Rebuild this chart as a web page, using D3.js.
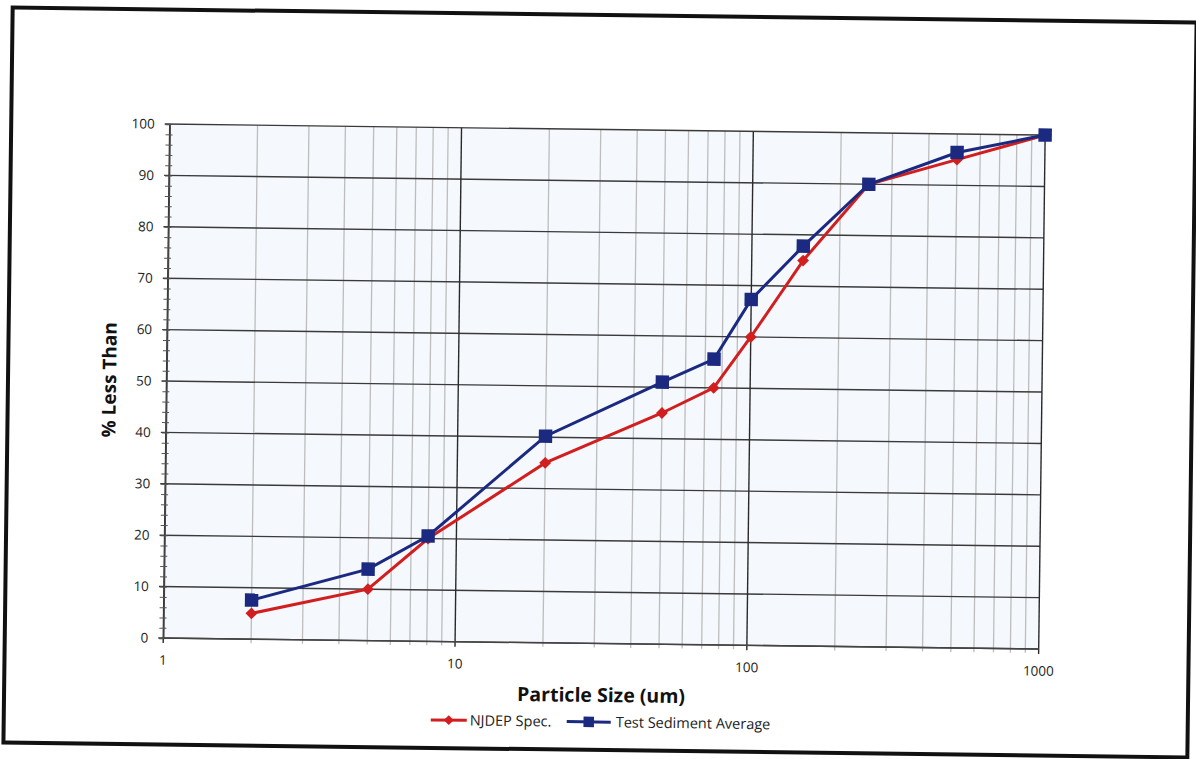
<!DOCTYPE html>
<html>
<head>
<meta charset="utf-8">
<script src="https://cdn.jsdelivr.net/npm/d3@7"></script>
<style>
  body { margin: 0; background: #fff; }
  svg { display: block; font-family: "Open Sans", "Noto Sans", sans-serif; }
</style>
</head>
<body>
<svg width="1196" height="759"></svg>
<script>
// Particle sizes (um) and percent less than for each series.
const sizes = [2, 5, 8, 20, 50, 75, 100, 150, 250, 500, 1000];
const njdepSpec = [5, 10, 20, 35, 45, 50, 60, 75, 90, 95, 100];
const testSediment = [7.6, 13.9, 20.5, 40.2, 51, 55.6, 67.3, 77.8, 90, 96.4, 100];
const xTicks = [1, 10, 100, 1000];
const yTicks = [0, 10, 20, 30, 40, 50, 60, 70, 80, 90, 100];

const plot = { left: 166.5, right: 1042, top: 129.5, bottom: 643.5 };

const svg = d3.select("svg");

// The scanned page is slightly tilted, so the whole drawing is rotated a bit.
const g = svg.append("g")
    .attr("transform", "rotate(0.72, 600, 383)");

// Outer frame.
g.append("rect")
    .attr("x", 8).attr("y", 15)
    .attr("width", 1184).attr("height", 735)
    .attr("fill", "#fff")
    .attr("stroke", "#111")
    .attr("stroke-width", 4);

const x = d3.scaleLog()
    .domain([1, 1000])
    .range([plot.left, plot.right]);

const y = d3.scaleLinear()
    .domain([0, 100])
    .range([plot.bottom, plot.top]);

// Plot background.
g.append("rect")
    .attr("x", plot.left).attr("y", plot.top)
    .attr("width", plot.right - plot.left)
    .attr("height", plot.bottom - plot.top)
    .attr("fill", "#f5f8fc");

// Minor vertical gridlines (2..9 within every decade).
const minorX = x.ticks().filter(v => !xTicks.includes(v));
g.append("g")
    .selectAll("line")
    .data(minorX)
    .join("line")
    .attr("x1", d => x(d)).attr("x2", d => x(d))
    .attr("y1", plot.top).attr("y2", plot.bottom + 4)
    .attr("stroke", "#bdbdbd")
    .attr("stroke-width", 1.3);

// Horizontal gridlines.
g.append("g")
    .selectAll("line")
    .data(yTicks)
    .join("line")
    .attr("x1", plot.left - 5).attr("x2", plot.right)
    .attr("y1", d => y(d)).attr("y2", d => y(d))
    .attr("stroke", "#3a3a3a")
    .attr("stroke-width", 1.4);

// Major vertical gridlines.
g.append("g")
    .selectAll("line")
    .data(xTicks)
    .join("line")
    .attr("x1", d => x(d)).attr("x2", d => x(d))
    .attr("y1", plot.top).attr("y2", plot.bottom + 5)
    .attr("stroke", "#2a2a2a")
    .attr("stroke-width", 1.4);

// Y axis with minor ticks every 2 units.
const yAxis = d3.axisLeft(y)
    .tickValues(d3.range(0, 101, 2))
    .tickSize(4)
    .tickFormat("");
const yAxisG = g.append("g")
    .attr("transform", `translate(${plot.left},0)`)
    .call(yAxis);
yAxisG.select(".domain").attr("stroke", "#444").attr("stroke-width", 1.5);
yAxisG.selectAll(".tick line")
    .attr("x2", -4).attr("x1", 3)
    .attr("stroke", "#555");

// Y tick labels.
g.append("g")
    .selectAll("text")
    .data(yTicks)
    .join("text")
    .attr("x", plot.left - 15)
    .attr("y", d => y(d))
    .attr("dy", "0.35em")
    .attr("text-anchor", "end")
    .attr("font-size", 13.5)
    .attr("fill", "#222")
    .text(d => d);

// X axis line.
g.append("line")
    .attr("x1", plot.left).attr("x2", plot.right)
    .attr("y1", plot.bottom).attr("y2", plot.bottom)
    .attr("stroke", "#444")
    .attr("stroke-width", 1.5);

// X tick labels.
g.append("g")
    .selectAll("text")
    .data(xTicks)
    .join("text")
    .attr("x", d => x(d))
    .attr("y", plot.bottom + 22)
    .attr("dy", "0.35em")
    .attr("text-anchor", "middle")
    .attr("font-size", 13.5)
    .attr("fill", "#222")
    .text(d => d);

// Axis titles.
g.append("text")
    .attr("x", 605).attr("y", 702)
    .attr("text-anchor", "middle")
    .attr("font-size", 19.5)
    .attr("font-weight", "bold")
    .attr("fill", "#111")
    .text("Particle Size (um)");

g.append("text")
    .attr("transform", "translate(116,386) rotate(-90)")
    .attr("text-anchor", "middle")
    .attr("font-size", 19)
    .attr("font-weight", "bold")
    .attr("fill", "#111")
    .text("% Less Than");

const line = d3.line()
    .x(d => x(d.size))
    .y(d => y(d.value));

const series = [
    { name: "NJDEP Spec.", values: njdepSpec, color: "#d11f1f", marker: "diamond" },
    { name: "Test Sediment Average", values: testSediment, color: "#1b2a80", marker: "square" }
];

// Diamonds are squares turned by 45 degrees, like the spreadsheet markers.
const markerPath = (s, big) => s.marker === "diamond"
    ? d3.symbol(d3.symbolSquare, big ? 70 : 50)()
    : d3.symbol(d3.symbolSquare, big ? 180 : 110)();
const markerRot = s => s.marker === "diamond" ? " rotate(45)" : "";

series.forEach(s => {
    const pts = sizes.map((size, i) => ({ size, value: s.values[i] }));
    g.append("path")
        .datum(pts)
        .attr("d", line)
        .attr("fill", "none")
        .attr("stroke", s.color)
        .attr("stroke-width", 3);
    g.append("g")
        .selectAll("path")
        .data(pts)
        .join("path")
        .attr("transform", d => `translate(${x(d.size)},${y(d.value)})${markerRot(s)}`)
        .attr("d", markerPath(s, true))
        .attr("fill", s.color);
});

// Legend.
const legendItems = [
    { x: 435, w: 36, tx: 474 },
    { x: 571, w: 44, tx: 620 }
];
series.forEach((s, i) => {
    const li = legendItems[i];
    const lg = g.append("g").attr("transform", `translate(0,722)`);
    lg.append("line")
        .attr("x1", li.x).attr("x2", li.x + li.w)
        .attr("stroke", s.color)
        .attr("stroke-width", 3);
    lg.append("path")
        .attr("transform", `translate(${li.x + li.w / 2},0)${markerRot(s)}`)
        .attr("d", markerPath(s, false))
        .attr("fill", s.color);
    lg.append("text")
        .attr("x", li.tx)
        .attr("dy", "0.35em")
        .attr("font-size", 14.5)
        .attr("fill", "#222")
        .text(s.name);
});
</script>
</body>
</html>
